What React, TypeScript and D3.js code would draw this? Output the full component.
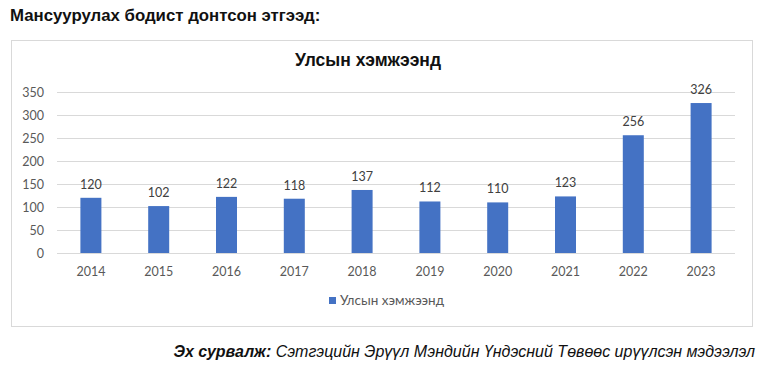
import React, { useEffect, useRef } from "react";
import * as d3 from "d3";

const years = ["2014", "2015", "2016", "2017", "2018", "2019", "2020", "2021", "2022", "2023"];
const counts = [120, 102, 122, 118, 137, 112, 110, 123, 256, 326];
const yTicks = [0, 50, 100, 150, 200, 250, 300, 350];

const seriesName = "Улсын хэмжээнд";
const heading = "Мансуурулах бодист донтсон этгээд:";
const sourceLabel = "Эх сурвалж:";
const sourceText = " Сэтгэцийн Эрүүл Мэндийн Үндэсний Төвөөс ирүүлсэн мэдээлэл";

const width = 768;
const height = 365;

export default function App() {
  const ref = useRef<SVGSVGElement>(null);

  useEffect(() => {
    const svg = d3.select(ref.current);
    svg.selectAll("*").remove();

    const left = 57, right = 735, top = 92, bottom = 253;
    const axisFont = "Lato, 'Open Sans', sans-serif";

    // heading
    svg.append("text")
      .attr("x", 10).attr("y", 21)
      .attr("font-family", "'Liberation Sans', Arial, sans-serif")
      .attr("font-weight", "bold").attr("font-size", 16.8)
      .attr("fill", "#111")
      .text(heading);

    // chart box
    svg.append("rect")
      .attr("x", 11.5).attr("y", 40.5)
      .attr("width", 741).attr("height", 286)
      .attr("fill", "white").attr("stroke", "#d9d9d9");

    svg.append("text")
      .attr("x", 368).attr("y", 66)
      .attr("text-anchor", "middle")
      .attr("font-family", "'Liberation Sans', Arial, sans-serif")
      .attr("font-weight", "bold").attr("font-size", 17.5)
      .attr("fill", "#111")
      .text(seriesName);

    const x = d3.scaleBand().domain(years).range([left, right]).padding(0);
    const y = d3.scaleLinear().domain([0, 350]).range([bottom, top]);

    const g = svg.append("g");

    g.selectAll("line.grid").data(yTicks).enter().append("line")
      .attr("class", "grid")
      .attr("x1", left).attr("x2", right)
      .attr("y1", d => Math.round(y(d)) + 0.5).attr("y2", d => Math.round(y(d)) + 0.5)
      .attr("stroke", "#d9d9d9");

    g.selectAll("text.ytick").data(yTicks).enter().append("text")
      .attr("class", "ytick")
      .attr("x", 44).attr("y", d => y(d) + 4.5)
      .attr("text-anchor", "end")
      .attr("font-family", axisFont).attr("font-size", 12.5)
      .attr("fill", "#595959")
      .text(d => d);

    const barW = 21;
    g.selectAll("rect.bar").data(counts).enter().append("rect")
      .attr("class", "bar")
      .attr("x", (d, i) => x(years[i])! + x.bandwidth() / 2 - barW / 2)
      .attr("y", d => y(d))
      .attr("width", barW)
      .attr("height", d => bottom - y(d))
      .attr("fill", "#4472c4");

    g.selectAll("text.label").data(counts).enter().append("text")
      .attr("class", "label")
      .attr("x", (d, i) => x(years[i])! + x.bandwidth() / 2)
      .attr("y", d => y(d) - 9)
      .attr("text-anchor", "middle")
      .attr("font-family", axisFont).attr("font-size", 12.5)
      .attr("fill", "#404040")
      .text(d => d);

    g.selectAll("text.xtick").data(years).enter().append("text")
      .attr("class", "xtick")
      .attr("x", d => x(d)! + x.bandwidth() / 2)
      .attr("y", 276)
      .attr("text-anchor", "middle")
      .attr("font-family", axisFont).attr("font-size", 12.5)
      .attr("fill", "#595959")
      .text(d => d);

    // legend
    svg.append("rect")
      .attr("x", 329).attr("y", 297).attr("width", 7).attr("height", 7)
      .attr("fill", "#4472c4");
    svg.append("text")
      .attr("x", 340).attr("y", 305)
      .attr("font-family", axisFont).attr("font-size", 13.5)
      .attr("fill", "#595959")
      .text(seriesName);

    // source
    const src = svg.append("text")
      .attr("x", 755).attr("y", 357)
      .attr("text-anchor", "end")
      .attr("font-family", "'Liberation Sans', Arial, sans-serif")
      .attr("font-style", "italic").attr("font-size", 16)
      .attr("fill", "#111");
    src.append("tspan").attr("font-weight", "bold").text(sourceLabel);
    src.append("tspan").text(sourceText);
  }, []);

  return (
    <div style={{ position: "fixed", left: 0, top: 0 }}>
      <svg ref={ref} width={width} height={height} style={{ display: "block", background: "white" }} />
    </div>
  );
}
